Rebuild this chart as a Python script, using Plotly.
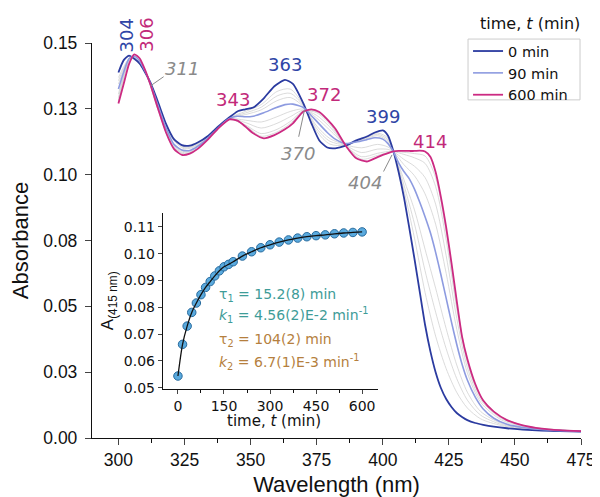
import plotly.graph_objects as go

# ---------------- data ----------------
wl = [300, 302, 304, 306, 308, 310, 312, 315, 318, 321, 324, 327, 330, 334, 338, 342, 345, 348,
      351, 355, 359, 363, 366, 370, 373, 376, 379, 382, 386, 390, 394, 397, 400, 402, 404, 406,
      408, 410, 412, 414, 416, 418, 420, 422, 424, 426, 428, 430, 432, 435, 438, 442, 447, 453,
      460, 467, 475]

abs_0 = [0.1388, 0.1435, 0.1452, 0.1440, 0.1422, 0.1390, 0.1352, 0.1275, 0.1193, 0.1135, 0.1112,
         0.1110, 0.1122, 0.1148, 0.1185, 0.1218, 0.1240, 0.1248, 0.1255, 0.1290, 0.1336, 0.1360,
         0.1345, 0.1270, 0.1195, 0.1130, 0.1103, 0.1100, 0.1110, 0.1130, 0.1145, 0.1160, 0.1168,
         0.1148, 0.1090, 0.1010, 0.0915, 0.0800, 0.0680, 0.0555, 0.0430, 0.0330, 0.0250, 0.0190,
         0.0148, 0.0118, 0.0095, 0.0080, 0.0068, 0.0057, 0.0050, 0.0043, 0.0037, 0.0032, 0.0028,
         0.0026, 0.0024]

abs_90 = [0.1325, 0.1390, 0.1440, 0.1450, 0.1432, 0.1395, 0.1348, 0.1262, 0.1177, 0.1115, 0.1094,
          0.1092, 0.1108, 0.1140, 0.1180, 0.1213, 0.1222, 0.1220, 0.1222, 0.1235, 0.1252, 0.1266,
          0.1268, 0.1255, 0.1224, 0.1192, 0.1160, 0.1135, 0.1118, 0.1124, 0.1133, 0.1140, 0.1135,
          0.1118, 0.1088, 0.1045, 0.1012, 0.0985, 0.0945, 0.0895, 0.0840, 0.0780, 0.0705, 0.0620,
          0.0530, 0.0440, 0.0355, 0.0280, 0.0220, 0.0155, 0.0110, 0.0075, 0.0052, 0.0040, 0.0032,
          0.0028, 0.0025]

abs_600 = [0.1270, 0.1345, 0.1420, 0.1457, 0.1442, 0.1400, 0.1345, 0.1250, 0.1160, 0.1098, 0.1075,
           0.1080, 0.1098, 0.1135, 0.1178, 0.1210, 0.1205, 0.1183, 0.1157, 0.1138, 0.1150, 0.1172,
           0.1195, 0.1240, 0.1248, 0.1238, 0.1210, 0.1175, 0.1110, 0.1062, 0.1050, 0.1062, 0.1075,
           0.1082, 0.1088, 0.1090, 0.1090, 0.1090, 0.1090, 0.1091, 0.1088, 0.1068, 0.1010, 0.0915,
           0.0800, 0.0665, 0.0520, 0.0385, 0.0300, 0.0205, 0.0142, 0.0100, 0.0068, 0.0048, 0.0036,
           0.0030, 0.0026]

# intermediate (grey) spectra
wl_g = [300, 305, 310, 315, 320, 325, 330, 336, 342, 348, 354, 360, 365, 370, 375, 380, 386, 392,
        398, 402, 404, 408, 412, 416, 420, 424, 428, 432, 437, 445, 455, 475]

abs_15 = [0.1369, 0.1449, 0.1394, 0.1271, 0.1149, 0.1105, 0.1118, 0.1164, 0.1216, 0.1240, 0.1266,
          0.1316, 0.1325, 0.1265, 0.1165, 0.1116, 0.1112, 0.1135, 0.1158, 0.1139, 0.1089, 0.0941,
          0.0759, 0.0553, 0.0387, 0.0263, 0.0173, 0.0114, 0.0073, 0.0047, 0.0033, 0.0024]
abs_30 = [0.1357, 0.1449, 0.1394, 0.1268, 0.1145, 0.1102, 0.1115, 0.1163, 0.1215, 0.1234, 0.1256,
          0.1299, 0.1309, 0.1262, 0.1175, 0.1127, 0.1114, 0.1133, 0.1153, 0.1133, 0.1089, 0.0961,
          0.0813, 0.0635, 0.0478, 0.0339, 0.0225, 0.0144, 0.0087, 0.0051, 0.0035, 0.0025]
abs_45 = [0.1344, 0.1448, 0.1393, 0.1265, 0.1141, 0.1098, 0.1112, 0.1162, 0.1214, 0.1228, 0.1246,
          0.1281, 0.1293, 0.1258, 0.1185, 0.1137, 0.1116, 0.1131, 0.1148, 0.1127, 0.1089, 0.0981,
          0.0866, 0.0717, 0.0569, 0.0415, 0.0277, 0.0174, 0.0101, 0.0055, 0.0036, 0.0025]
abs_150 = [0.1306, 0.1446, 0.1391, 0.1255, 0.1128, 0.1087, 0.1105, 0.1159, 0.1211, 0.1207, 0.1200,
           0.1220, 0.1240, 0.1249, 0.1215, 0.1169, 0.1115, 0.1102, 0.1115, 0.1105, 0.1088, 0.1038,
           0.0996, 0.0927, 0.0812, 0.0625, 0.0413, 0.0248, 0.0136, 0.0068, 0.0040, 0.0025]
abs_240 = [0.1292, 0.1446, 0.1391, 0.1251, 0.1123, 0.1083, 0.1102, 0.1158, 0.1211, 0.1198, 0.1177,
           0.1195, 0.1220, 0.1245, 0.1225, 0.1181, 0.1113, 0.1084, 0.1097, 0.1096, 0.1088, 0.1058,
           0.1032, 0.0989, 0.0888, 0.0692, 0.0454, 0.0268, 0.0146, 0.0073, 0.0042, 0.0026]
abs_360 = [0.1279, 0.1445, 0.1390, 0.1248, 0.1119, 0.1079, 0.1100, 0.1158, 0.1210, 0.1189, 0.1156,
           0.1172, 0.1202, 0.1242, 0.1235, 0.1191, 0.1111, 0.1068, 0.1081, 0.1088, 0.1088, 0.1077,
           0.1064, 0.1043, 0.0955, 0.0752, 0.0490, 0.0286, 0.0155, 0.0077, 0.0043, 0.0026]
abs_480 = [0.1274, 0.1445, 0.1390, 0.1246, 0.1116, 0.1077, 0.1099, 0.1157, 0.1210, 0.1186, 0.1146,
           0.1162, 0.1194, 0.1241, 0.1239, 0.1197, 0.1111, 0.1059, 0.1073, 0.1084, 0.1088, 0.1085,
           0.1080, 0.1071, 0.0989, 0.0781, 0.0508, 0.0295, 0.0159, 0.0079, 0.0044, 0.0026]
grey_series = [abs_15, abs_30, abs_45, abs_150, abs_240, abs_360, abs_480]

# kinetics at 415 nm (inset)
t_min = [0, 15, 30, 45, 60, 75, 90, 105, 120, 135, 150, 165, 180, 210, 240, 270, 300, 330, 360,
         390, 420, 450, 480, 510, 540, 570, 600]
a415 = [0.0544, 0.0662, 0.0730, 0.0781, 0.0816, 0.0847, 0.0874, 0.0896, 0.0917, 0.0936, 0.0951,
        0.0960, 0.0970, 0.0991, 0.1007, 0.1022, 0.1033, 0.1043, 0.1051, 0.1058, 0.1063, 0.1067,
        0.1070, 0.1074, 0.1077, 0.1079, 0.1081]

y_ticks = [0.0, 0.025, 0.05, 0.075, 0.10, 0.125, 0.15]
y_ticklabels = ["0.00", "0.03", "0.05", "0.08", "0.10", "0.13", "0.15"]
x_ticks = [300, 325, 350, 375, 400, 425, 450, 475]

# ---------------- figure ----------------
BLUE = "#2b3ba0"
LAV = "#8d9be0"
MAG = "#cc2a82"
GREY = "#d2d2d2"
SANS = "Liberation Sans, Arial, sans-serif"
VERD = "DejaVu Sans, Verdana, sans-serif"

fig = go.Figure()
for g in grey_series:
    fig.add_trace(go.Scatter(x=wl_g, y=g, mode="lines", showlegend=False, hoverinfo="skip",
                             line=dict(color=GREY, width=0.8, shape="spline", smoothing=0.8)))
fig.add_trace(go.Scatter(x=wl, y=abs_0, mode="lines", name="0 min",
                         line=dict(color=BLUE, width=1.8, shape="spline", smoothing=0.6)))
fig.add_trace(go.Scatter(x=wl, y=abs_90, mode="lines", name="90 min",
                         line=dict(color=LAV, width=1.6, shape="spline", smoothing=0.6)))
fig.add_trace(go.Scatter(x=wl, y=abs_600, mode="lines", name="600 min",
                         line=dict(color=MAG, width=1.8, shape="spline", smoothing=0.6)))

# inset
fig.add_trace(go.Scatter(x=t_min, y=a415, mode="markers", xaxis="x2", yaxis="y2", showlegend=False,
                         marker=dict(size=8.5, color="#5aaade", line=dict(color="#2a6c9e", width=1))))
fig.add_trace(go.Scatter(x=t_min, y=a415, mode="lines", xaxis="x2", yaxis="y2", showlegend=False,
                         line=dict(color="#111111", width=1.3, shape="spline", smoothing=0.8)))

fig.update_layout(
    width=592, height=489,
    margin=dict(l=84, r=19, t=35, b=58.5, autoexpand=False),
    plot_bgcolor="white", paper_bgcolor="white",
    font=dict(family=SANS, color="#111111"),
    xaxis=dict(domain=[0, 1], range=[290, 475], tickvals=x_ticks, ticks="outside", ticklen=6,
               tickwidth=1.2, showline=True, linecolor="#111111", linewidth=1.3, showgrid=False,
               zeroline=False, tickfont=dict(size=17.5, family=SANS), automargin=False,
               minor=dict(dtick=12.5, tick0=300, ticks="outside", ticklen=4, tickwidth=1.1,
                          tickcolor="#111111"),
               title=dict(text="Wavelength (nm)", font=dict(size=22, family=SANS), standoff=8)),
    yaxis=dict(domain=[0, 1], range=[0, 0.15], tickvals=y_ticks, ticktext=y_ticklabels,
               ticks="outside", ticklen=6, tickwidth=1.2, showline=True, linecolor="#111111",
               linewidth=1.3, showgrid=False, zeroline=False, tickfont=dict(size=17.5, family=SANS),
               automargin=False, ticklabelstandoff=4,
               title=dict(text="Absorbance", font=dict(size=22, family=SANS), standoff=10)),
    xaxis2=dict(domain=[0.145, 0.585], anchor="y2", range=[-49, 652],
                tickvals=[0, 150, 300, 450, 600], ticks="outside", ticklen=4, tickwidth=1,
                showline=True, linecolor="#111111", linewidth=1.2, showgrid=False, zeroline=False,
                tickfont=dict(size=14, family=VERD), automargin=False, ticklabelstandoff=0,
                minor=dict(dtick=75, tick0=0, ticks="outside", ticklen=3, tickcolor="#111111")),
    yaxis2=dict(domain=[0.125, 0.570], anchor="x2", range=[0.0497, 0.1152],
                tickvals=[0.05, 0.06, 0.07, 0.08, 0.09, 0.10, 0.11], tickformat=".2f",
                ticks="outside", ticklen=4, tickwidth=1, showline=True, linecolor="#111111",
                linewidth=1.2, showgrid=False, zeroline=False, tickfont=dict(size=14, family=VERD),
                automargin=False,
                title=dict(text="A<sub>(415 nm)</sub>", font=dict(size=17, family=SANS), standoff=5)),
    legend=dict(x=0.769, y=1.020, xanchor="left", yanchor="top", bgcolor="rgba(0,0,0,0)",
                bordercolor="rgba(0,0,0,0)", borderwidth=0, font=dict(size=14.5, family=VERD),
                tracegroupgap=0, itemwidth=30),
    showlegend=True,
)

# legend frame
fig.add_shape(type="rect", xref="paper", yref="paper", x0=0.769, x1=0.998, y0=0.856, y1=1.010,
              line=dict(color="#cccccc", width=1), fillcolor="white", layer="below")

ann = []
def lab(x, y, text, color, size=18, angle=0, italic=False, ref=("x", "y"), xanchor="center"):
    ann.append(dict(x=x, y=y, xref=ref[0], yref=ref[1], text=(f"<i>{text}</i>" if italic else text),
                    showarrow=False, textangle=angle, xanchor=xanchor, yanchor="middle",
                    font=dict(size=size, color=color, family=VERD)))

# vertical peak labels above the plot top (paper y)
lab(303.0, 1.020, "304", "#2f45a6", angle=-90, ref=("x", "paper"))
lab(310.3, 1.020, "306", "#c2297a", angle=-90, ref=("x", "paper"))
lab(324.2, 0.1404, "311", "#8a8a8a", italic=True)
lab(363.2, 0.1418, "363", "#2f45a6")
lab(343.3, 0.1286, "343", "#c2297a")
lab(377.7, 0.1305, "372", "#c2297a")
lab(367.9, 0.1081, "370", "#8a8a8a", italic=True)
lab(400.0, 0.1221, "399", "#2f45a6")
lab(417.8, 0.1126, "414", "#c2297a")
lab(393.2, 0.0971, "404", "#8a8a8a", italic=True)

# legend title (placed above the legend box)
ann.append(dict(x=0.896, y=1.050, xref="paper", yref="paper", text="time, <i>t</i> (min)",
                showarrow=False, xanchor="center", yanchor="middle",
                font=dict(size=16, family=VERD, color="#111111")))

# inset x-axis title
ann.append(dict(x=0.373, y=0.042, xref="paper", yref="paper", text="time, <i>t</i> (min)",
                showarrow=False, xanchor="center", yanchor="middle",
                font=dict(size=15, family=VERD, color="#111111")))

# inset fit parameters
TEAL = "#3e9c98"
BROWN = "#b57f3e"
lab(127, 0.0847, "τ<sub>1</sub> = 15.2(8) min", TEAL, size=14, ref=("x2", "y2"), xanchor="left")
lab(127, 0.0772, "<i>k</i><sub>1</sub> = 4.56(2)E-2 min<sup>-1</sup>", TEAL, size=14, ref=("x2", "y2"), xanchor="left")
lab(127, 0.0679, "τ<sub>2</sub> = 104(2) min", BROWN, size=14, ref=("x2", "y2"), xanchor="left")
lab(127, 0.0597, "<i>k</i><sub>2</sub> = 6.7(1)E-3 min<sup>-1</sup>", BROWN, size=14, ref=("x2", "y2"), xanchor="left")
fig.update_layout(annotations=ann)

# leader lines for isosbestic points
for (x0, y0, x1, y1) in [(312.1, 0.1337, 317.1, 0.1372), (370.4, 0.1246, 368.2, 0.1144),
                         (403.5, 0.1075, 400.3, 0.1012)]:
    fig.add_shape(type="line", x0=x0, y0=y0, x1=x1, y1=y1, xref="x", yref="y",
                  line=dict(color="#8a8a8a", width=1))

fig.write_html("out.html")
